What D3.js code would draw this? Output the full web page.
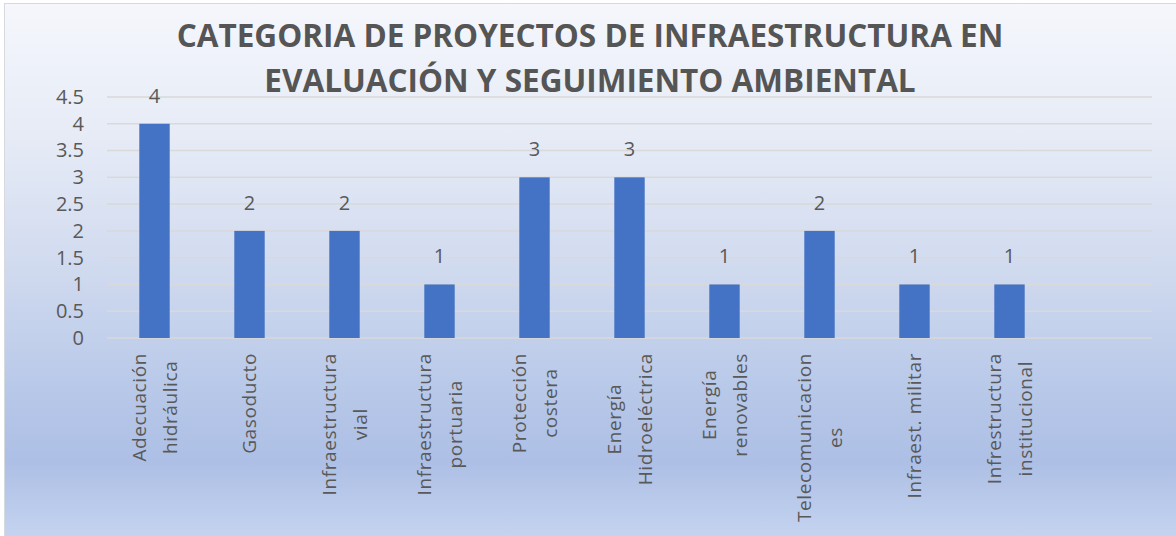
<!DOCTYPE html>
<html>
<head>
<meta charset="utf-8">
<script src="https://cdn.jsdelivr.net/npm/d3@7"></script>
<style>
  body { margin: 0; background: #fff; }
  text { font-family: "Open Sans", sans-serif; }
</style>
</head>
<body>
<div id="chart"></div>
<script>
// données
var titleLines = ["CATEGORIA DE PROYECTOS DE INFRAESTRUCTURA EN", "EVALUACIÓN Y SEGUIMIENTO AMBIENTAL"];
var categories = [
  ["Adecuación", "hidráulica"],
  ["Gasoducto"],
  ["Infraestructura", "vial"],
  ["Infraestructura", "portuaria"],
  ["Protección", "costera"],
  ["Energía", "Hidroeléctrica"],
  ["Energía", "renovables"],
  ["Telecomunicacion", "es"],
  ["Infraest. militar"],
  ["Infrestructura", "institucional"]
];
var values = [4, 2, 2, 1, 3, 3, 1, 2, 1, 1];
var yTicks = [0, 0.5, 1, 1.5, 2, 2.5, 3, 3.5, 4, 4.5];

var W = 1176, H = 536;
var plot = {left: 107, right: 1152, top: 97, bottom: 338};

var svg = d3.select("#chart").append("svg")
  .attr("width", W).attr("height", H);

// fond dégradé
var grad = svg.append("defs").append("linearGradient")
  .attr("id", "bg").attr("x1", 0).attr("y1", 0).attr("x2", 0).attr("y2", 1);
[[0, "#f5f7fc"], [0.25, "#e6ebf6"], [0.5, "#d0daef"], [0.74, "#b6c7e8"], [0.86, "#adbfe5"], [1, "#c4d3ef"]]
  .forEach(function (s) { grad.append("stop").attr("offset", s[0]).attr("stop-color", s[1]); });

svg.append("rect")
  .attr("x", 4.5).attr("y", 3.5).attr("width", W - 4).attr("height", H - 3)
  .attr("fill", "url(#bg)").attr("stroke", "#d6d9de").attr("stroke-width", 1);

// échelles
var x = d3.scaleBand()
  .domain(d3.range(categories.length))
  .range([plot.left, plot.left + (plot.right - plot.left) * categories.length / (categories.length + 1)])
  .paddingInner(0.68).paddingOuter(0.34);

var y = d3.scaleLinear().domain([0, 4.5]).range([plot.bottom, plot.top]);

// grille
svg.append("g").selectAll("line")
  .data(yTicks).enter().append("line")
  .attr("x1", plot.left).attr("x2", plot.right)
  .attr("y1", function (d) { return y(d); })
  .attr("y2", function (d) { return y(d); })
  .attr("stroke", "#d9d9d9").attr("stroke-width", 1.5);

// axe Y
var yAxis = svg.append("g")
  .attr("transform", "translate(" + 84 + ",0)")
  .call(d3.axisLeft(y).tickValues(yTicks).tickSize(0).tickPadding(0)
    .tickFormat(function (d) { return String(d); }));
yAxis.select(".domain").remove();
yAxis.selectAll("text")
  .attr("fill", "#595959").style("font-size", "20px")
  .style("font-family", "'Open Sans', sans-serif");

// barres
svg.append("g").selectAll("rect")
  .data(values).enter().append("rect")
  .attr("x", function (d, i) { return x(i); })
  .attr("width", x.bandwidth())
  .attr("y", function (d) { return y(d); })
  .attr("height", function (d) { return y(0) - y(d); })
  .attr("fill", "#4472c4");

// étiquettes de données
svg.append("g").selectAll("text")
  .data(values).enter().append("text")
  .attr("x", function (d, i) { return x(i) + x.bandwidth() / 2; })
  .attr("y", function (d) { return y(d) - 21; })
  .attr("text-anchor", "middle")
  .attr("fill", "#595959").style("font-size", "20px")
  .text(function (d) { return d; });

// étiquettes de catégories (verticales, sur plusieurs lignes)
var labelTop = 353, lineGap = 31;
categories.forEach(function (lines, i) {
  var cx = x(i) + x.bandwidth() / 2;
  var g = svg.append("g")
    .attr("transform", "translate(" + cx + "," + labelTop + ") rotate(-90)");
  var texts = g.selectAll("text").data(lines).enter().append("text")
    .attr("text-anchor", "middle")
    .attr("dy", "0.35em")
    .attr("y", function (d, k) { return (k - (lines.length - 1) / 2) * lineGap; })
    .attr("fill", "#595959").style("font-size", "19px")
    .style("letter-spacing", "0.6px")
    .text(function (d) { return d; });
  var maxLen = 0;
  texts.each(function () { maxLen = Math.max(maxLen, this.getComputedTextLength()); });
  texts.attr("x", -maxLen / 2);
});

// titre
svg.append("g").selectAll("text")
  .data(titleLines).enter().append("text")
  .attr("x", 590)
  .attr("y", function (d, i) { return 47 + i * 45; })
  .attr("text-anchor", "middle")
  .attr("fill", "#555555")
  .style("font-size", "31.5px").style("font-weight", "bold")
  .text(function (d) { return d; });
</script>
</body>
</html>
